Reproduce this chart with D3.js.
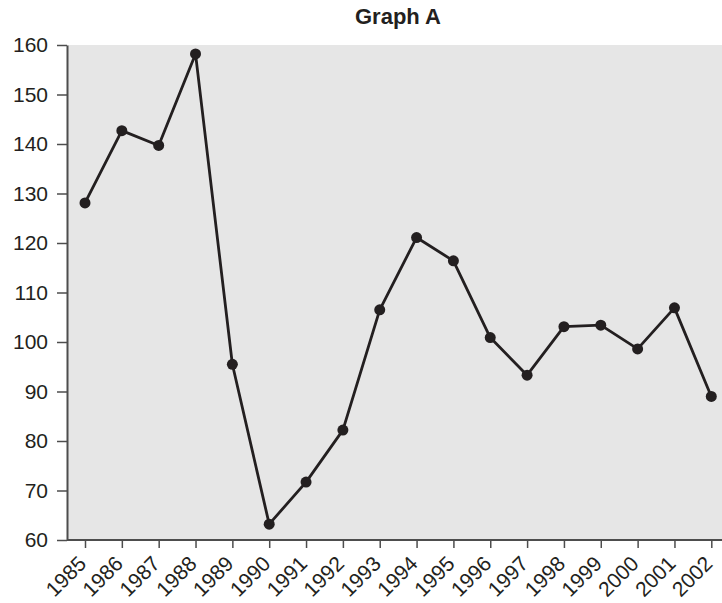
<!DOCTYPE html>
<html>
<head>
<meta charset="utf-8">
<script src="https://cdn.jsdelivr.net/npm/d3@7"></script>
<style>
  body { margin: 0; background: #fff; }
  svg { display: block; font-family: "Liberation Sans", Arial, sans-serif; }
</style>
</head>
<body>
<svg id="chart"></svg>
<script>
// ================= DATA =================
const years = ["1985", "1986", "1987", "1988", "1989", "1990", "1991", "1992", "1993",
               "1994", "1995", "1996", "1997", "1998", "1999", "2000", "2001", "2002"];
const values = [128.1, 142.7, 139.7, 158.2, 95.5, 63.2, 71.7, 82.2, 106.5,
                121.1, 116.4, 100.9, 93.3, 103.1, 103.4, 98.6, 106.9, 89.0];
const yTicks = [60, 70, 80, 90, 100, 110, 120, 130, 140, 150, 160];
const title = "Graph A";

// ================= CANVAS =================
const W = 722, H = 603;
const plotLeft = 67, plotTop = 45, plotBottom = 540;
const firstX = 85, lastX = 711.3;

const svg = d3.select("#chart").attr("width", W).attr("height", H);

const x = d3.scalePoint().domain(years).range([firstX, lastX]);
const y = d3.scaleLinear().domain([60, 160]).range([plotBottom, plotTop]);

// plot background
svg.append("rect")
    .attr("x", plotLeft)
    .attr("y", plotTop)
    .attr("width", W - plotLeft)
    .attr("height", plotBottom - plotTop)
    .attr("fill", "#e6e6e6");

// ================= AXES =================
const axisColor = "#4d4d4d";

const yAxis = svg.append("g")
    .attr("transform", "translate(" + plotLeft + ",0)")
    .call(d3.axisLeft(y).tickValues(yTicks).tickSize(10).tickPadding(9).tickSizeOuter(0));

const xAxis = svg.append("g")
    .attr("transform", "translate(0," + plotBottom + ")")
    .call(d3.axisBottom(x).tickSize(8).tickSizeOuter(0));

// x axis line should span the whole plot width
xAxis.select(".domain").attr("d", "M" + plotLeft + ",0H" + W);

[yAxis, xAxis].forEach(g => {
    g.select(".domain").attr("stroke", axisColor).attr("stroke-width", 2);
    g.selectAll(".tick line").attr("stroke", axisColor).attr("stroke-width", 1.5);
    g.selectAll("text")
        .attr("fill", "#231f20")
        .style("font-size", "21px")
        .style("font-family", "'Liberation Sans', Arial, sans-serif");
});

// rotated year labels, text end just under each tick
xAxis.selectAll(".tick text")
    .attr("text-anchor", "end")
    .attr("x", 0)
    .attr("y", 0)
    .attr("dy", 0)
    .attr("transform", "translate(2,25) rotate(-45)");

// ================= LINE + POINTS =================
const pts = years.map((yr, i) => ({ year: yr, value: values[i] }));

const line = d3.line()
    .x(d => x(d.year))
    .y(d => y(d.value));

svg.append("path")
    .datum(pts)
    .attr("fill", "none")
    .attr("stroke", "#231f20")
    .attr("stroke-width", 2.8)
    .attr("stroke-linejoin", "round")
    .attr("d", line);

svg.selectAll(".dot")
    .data(pts)
    .enter()
    .append("circle")
    .attr("class", "dot")
    .attr("cx", d => x(d.year))
    .attr("cy", d => y(d.value))
    .attr("r", 5.5)
    .attr("fill", "#231f20");

// ================= TITLE =================
svg.append("text")
    .attr("x", 398)
    .attr("y", 24)
    .attr("text-anchor", "middle")
    .style("font-weight", "bold")
    .style("font-size", "22px")
    .attr("fill", "#231f20")
    .text(title);
</script>
</body>
</html>
